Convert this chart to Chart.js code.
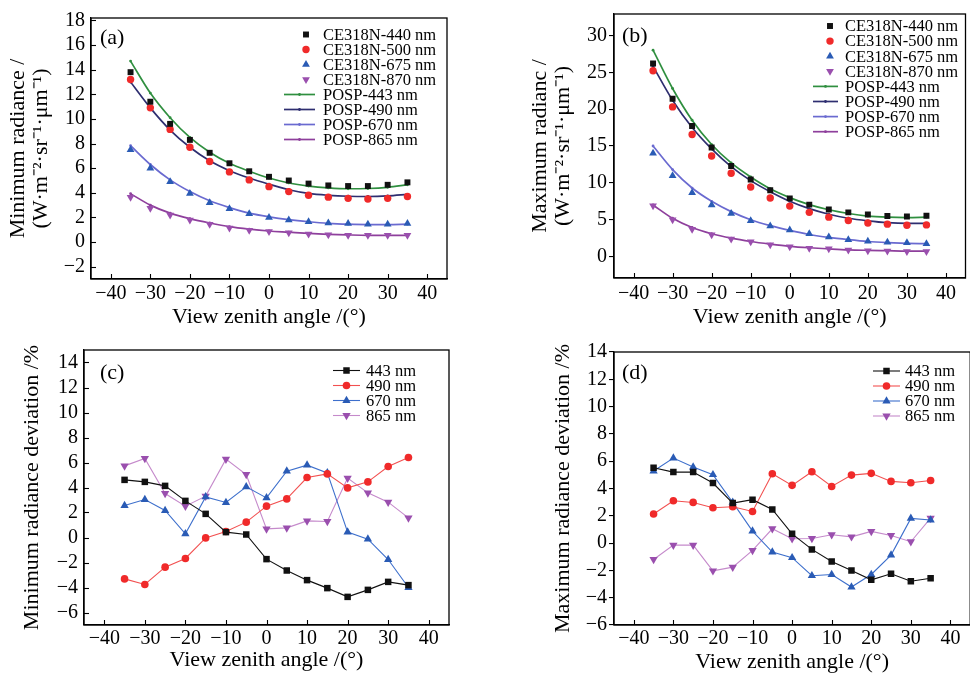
<!DOCTYPE html>
<html><head><meta charset="utf-8">
<script src="https://cdn.jsdelivr.net/npm/chart.js@4/dist/chart.umd.min.js"></script>
<style>
html,body{margin:0;padding:0;background:#fff;overflow:hidden;width:970px;height:674px;position:relative;}
canvas{position:absolute;}
</style></head><body>
<canvas id="ca" width="485" height="330" style="left:0;top:0"></canvas>
<canvas id="cb" width="485" height="330" style="left:485px;top:0"></canvas>
<canvas id="cc" width="485" height="344" style="left:0;top:330px"></canvas>
<canvas id="cd" width="490" height="344" style="left:485px;top:330px"></canvas>
<script>
// ---------- data ----------
const angles = [-35, -30, -25, -20, -15, -10, -5, 0, 5, 10, 15, 20, 25, 30, 35];
const xTicks = [-40, -30, -20, -10, 0, 10, 20, 30, 40];
const yTicksA = [-2, 0, 2, 4, 6, 8, 10, 12, 14, 16, 18];
const yTicksB = [0, 5, 10, 15, 20, 25, 30];
const yTicksC = [-6, -4, -2, 0, 2, 4, 6, 8, 10, 12, 14];
const yTicksD = [-6, -4, -2, 0, 2, 4, 6, 8, 10, 12, 14];

// (a) minimum radiance
const ceMin440 = [13.8, 11.4, 9.6, 8.3, 7.25, 6.4, 5.75, 5.3, 5.0, 4.75, 4.6, 4.55, 4.55, 4.65, 4.85];
const ceMin500 = [13.2, 10.9, 9.15, 7.7, 6.55, 5.7, 5.05, 4.5, 4.1, 3.8, 3.65, 3.55, 3.5, 3.55, 3.7];
const ceMin675 = [7.5, 6.0, 4.9, 3.95, 3.2, 2.7, 2.3, 2.0, 1.8, 1.65, 1.55, 1.5, 1.45, 1.45, 1.5];
const ceMin870 = [3.65, 2.75, 2.2, 1.8, 1.45, 1.15, 0.95, 0.85, 0.75, 0.65, 0.6, 0.55, 0.55, 0.55, 0.55];
const pospMin443 = [14.7, 12.1, 10.1, 8.5, 7.3, 6.4, 5.75, 5.2, 4.8, 4.55, 4.4, 4.33, 4.35, 4.45, 4.65];
const pospMin490 = [13.0, 10.9, 9.1, 7.7, 6.6, 5.8, 5.2, 4.7, 4.25, 3.95, 3.8, 3.72, 3.7, 3.75, 3.88];
const pospMin670 = [7.83, 6.3, 5.05, 4.1, 3.35, 2.8, 2.35, 2.05, 1.82, 1.65, 1.52, 1.45, 1.42, 1.42, 1.45];
const pospMin865 = [3.93, 3.0, 2.35, 1.9, 1.55, 1.25, 1.05, 0.9, 0.8, 0.7, 0.63, 0.58, 0.55, 0.55, 0.55];

// (b) maximum radiance
const ceMax440 = [26.2, 21.4, 17.7, 14.8, 12.3, 10.45, 9.0, 7.9, 7.05, 6.4, 6.0, 5.7, 5.5, 5.45, 5.55];
const ceMax500 = [25.2, 20.3, 16.55, 13.65, 11.3, 9.45, 7.95, 6.85, 6.0, 5.35, 4.9, 4.55, 4.4, 4.25, 4.3];
const ceMax675 = [14.0, 10.95, 8.65, 7.0, 5.85, 4.85, 4.15, 3.6, 3.1, 2.65, 2.3, 2.1, 1.95, 1.88, 1.75];
const ceMax870 = [6.9, 5.0, 3.7, 2.95, 2.4, 2.0, 1.6, 1.35, 1.15, 1.05, 0.9, 0.8, 0.75, 0.7, 0.7];
const pospMax443 = [28.0, 22.8, 18.5, 15.2, 12.7, 10.8, 9.2, 8.0, 7.05, 6.35, 5.85, 5.5, 5.35, 5.3, 5.35];
const pospMax490 = [25.8, 21.2, 17.5, 14.6, 12.2, 10.3, 8.8, 7.5, 6.5, 5.75, 5.2, 4.85, 4.6, 4.5, 4.5];
const pospMax670 = [15.0, 11.8, 9.3, 7.5, 6.1, 5.0, 4.2, 3.55, 3.0, 2.6, 2.3, 2.05, 1.9, 1.8, 1.75];
const pospMax865 = [7.0, 5.2, 3.95, 3.1, 2.5, 2.05, 1.7, 1.4, 1.2, 1.05, 0.92, 0.85, 0.8, 0.75, 0.75];

// (c) minimum radiance deviation %
const devMin443 = [4.61, 4.45, 4.13, 2.93, 1.89, 0.43, 0.24, -1.73, -2.64, -3.41, -4.05, -4.75, -4.19, -3.55, -3.81];
const devMin490 = [-3.31, -3.76, -2.37, -1.68, -0.03, 0.48, 1.23, 2.51, 3.09, 4.8, 5.09, 3.97, 4.45, 5.68, 6.4];
const devMin670 = [2.56, 3.04, 2.16, 0.29, 3.25, 2.8, 4.05, 3.17, 5.31, 5.79, 5.17, 0.43, -0.13, -1.76, -4.0];
const devMin865 = [5.73, 6.32, 3.52, 2.51, 3.31, 6.27, 5.04, 0.69, 0.77, 1.33, 1.28, 4.75, 3.57, 2.83, 1.57];

// (d) maximum radiance deviation %
const devMax443 = [5.52, 5.2, 5.2, 4.4, 2.93, 3.18, 2.47, 0.68, -0.46, -1.34, -2.0, -2.69, -2.25, -2.79, -2.57];
const devMax490 = [2.13, 3.1, 2.98, 2.59, 2.66, 2.32, 5.08, 4.23, 5.23, 4.15, 4.98, 5.11, 4.52, 4.42, 4.59];
const devMax670 = [5.28, 6.23, 5.57, 5.01, 2.98, 0.88, -0.66, -1.07, -2.39, -2.3, -3.22, -2.3, -0.88, 1.81, 1.69];
const devMax865 = [-1.2, -0.15, -0.15, -2.03, -1.76, -0.54, 1.05, 0.32, 0.34, 0.61, 0.46, 0.86, 0.56, 0.1, 1.83];

// ---------- styling helpers ----------
const FONT = "'Liberation Serif', 'Times New Roman', serif";
const C = {black:'#111111', red:'#f02a2a', blue:'#2a5bb5', purple:'#9a4fae',
  redL:'#f25050', blueL:'#3d6fcc', purpleL:'#c58acb',
  green:'#2f8f3f', navy:'#2e2e70', p670:'#6a6ad0', p865:'#8e3f9c'};
const pts = ys => ys.map((y, i) => ({x: angles[i], y: y}));
const minus = v => String(v).replace('-', '\u2212');

function marker(ctx, style, r, x, y, fill, rot) {
  ctx.fillStyle = fill;
  ctx.beginPath();
  if (style === 'rect') {
    const s = r * Math.SQRT1_2;
    ctx.rect(x - s, y - s, 2 * s, 2 * s);
  } else if (style === 'triangle') {
    let a = (rot || 0) * Math.PI / 180;
    ctx.moveTo(x + Math.sin(a) * r, y - Math.cos(a) * r);
    a += 2 * Math.PI / 3; ctx.lineTo(x + Math.sin(a) * r, y - Math.cos(a) * r);
    a += 2 * Math.PI / 3; ctx.lineTo(x + Math.sin(a) * r, y - Math.cos(a) * r);
    ctx.closePath();
  } else {
    ctx.arc(x, y, r, 0, Math.PI * 2);
  }
  ctx.fill();
}

const framePlugin = {
  id: 'frame',
  afterDraw(chart, args, o) {
    const {ctx, chartArea: a} = chart;
    ctx.save();
    ctx.strokeStyle = '#000';
    ctx.lineWidth = 1.3;
    ctx.strokeRect(a.left, a.top, a.right - a.left, a.bottom - a.top);
    ctx.lineWidth = 1.1;
    const len = 5;
    if (o.inX) chart.scales.x.ticks.forEach(t => {
      const px = Math.round(chart.scales.x.getPixelForValue(t.value)) + 0.5;
      ctx.beginPath(); ctx.moveTo(px, a.bottom); ctx.lineTo(px, a.bottom - len); ctx.stroke();
    });
    if (o.inY) chart.scales.y.ticks.forEach(t => {
      const py = Math.round(chart.scales.y.getPixelForValue(t.value)) + 0.5;
      ctx.beginPath(); ctx.moveTo(a.left, py); ctx.lineTo(a.left + len, py); ctx.stroke();
    });
    ctx.fillStyle = '#000';
    ctx.font = '22px ' + FONT;
    ctx.textBaseline = 'middle';
    ctx.textAlign = 'left';
    ctx.fillText(o.label, a.left + o.dx, a.top + o.dy);
    ctx.restore();
  }
};

const legendPlugin = {
  id: 'inLegend',
  afterDraw(chart, args, o) {
    const ctx = chart.ctx;
    ctx.save();
    chart.data.datasets.forEach((ds, i) => {
      const y = o.y0 + i * o.rowH;
      if (ds.showLine !== false) {
        ctx.strokeStyle = ds.borderColor;
        ctx.lineWidth = ds.borderWidth;
        ctx.beginPath(); ctx.moveTo(o.x1, y); ctx.lineTo(o.x2, y); ctx.stroke();
        marker(ctx, ds.pointStyle, ds.pointRadius, (o.x1 + o.x2) / 2, y, ds.pointBackgroundColor, ds.pointRotation);
      } else {
        marker(ctx, ds.pointStyle, ds.pointRadius, o.mx, y, ds.pointBackgroundColor, ds.pointRotation);
      }
      ctx.fillStyle = '#000';
      ctx.font = '16.5px ' + FONT;
      ctx.textBaseline = 'middle';
      ctx.textAlign = 'left';
      ctx.fillText(ds.label, o.tx, y + 1);
    });
    ctx.restore();
  }
};

function xScale(o) {
  return {
    type: 'linear', min: -45, max: 45,
    afterBuildTicks: s => { s.ticks = xTicks.map(v => ({value: v})); },
    afterFit: s => { s.height = o.h; },
    grid: {drawOnChartArea: false, drawTicks: false},
    border: {display: true, color: '#000', width: 1.3},
    ticks: {padding: o.pad, color: '#000', maxRotation: 0, autoSkip: false,
      font: {family: FONT, size: 20}, callback: v => minus(v)},
    title: {display: true, text: 'View zenith angle /(\u00b0)', color: '#000',
      font: {family: FONT, size: 22, lineHeight: 1.1}, padding: {top: 0, bottom: o.tpad}}
  };
}
function yScale(o) {
  return {
    type: 'linear', min: o.min, max: o.max,
    afterBuildTicks: s => { s.ticks = o.ticks.map(v => ({value: v})); },
    afterFit: s => { s.width = o.w; },
    grid: {drawOnChartArea: false, drawTicks: !!o.out, tickLength: 5, color: '#000', lineWidth: 1.1},
    border: {display: true, color: '#000', width: 1.3},
    ticks: {padding: o.pad, color: '#000', autoSkip: false,
      font: {family: FONT, size: 20}, callback: v => minus(v)},
    title: {display: true, text: o.title, color: '#000',
      font: {family: FONT, size: 22, lineHeight: 1.05}, padding: {top: o.tpad, bottom: 0}}
  };
}

function ceSet(label, ys, color, style, r, rot) {
  return {label, data: pts(ys), showLine: false, pointStyle: style, pointRadius: r,
    pointRotation: rot || 0, pointBackgroundColor: color, pointBorderColor: color,
    pointBorderWidth: 0, borderColor: color};
}
function pospSet(label, ys, color) {
  return {label, data: pts(ys), showLine: true, borderColor: color, borderWidth: 1.7,
    cubicInterpolationMode: 'monotone', pointStyle: 'circle', pointRadius: 1.4,
    pointBackgroundColor: color, pointBorderColor: color, pointBorderWidth: 0};
}
function devSet(label, ys, lineColor, color, style, r, rot) {
  return {label, data: pts(ys), showLine: true, borderColor: lineColor, borderWidth: 1.1,
    tension: 0, pointStyle: style, pointRadius: r, pointRotation: rot || 0,
    pointBackgroundColor: color, pointBorderColor: color, pointBorderWidth: 0};
}

function make(id, datasets, opts) {
  return new Chart(document.getElementById(id), {
    type: 'line',
    data: {datasets},
    options: {
      responsive: false, animation: false, parsing: true,
      layout: {padding: opts.padding},
      plugins: {legend: {display: false}, tooltip: {enabled: false},
        frame: opts.frame, inLegend: opts.legend},
      scales: {x: opts.x, y: opts.y}
    },
    plugins: [framePlugin, legendPlugin]
  });
}

const yUnit = '(W\u00b7m\u207b\u00b2\u00b7sr\u207b\u00b9\u00b7\u03bcm\u207b\u00b9)';

// (a)
make('ca', [
  ceSet('CE318N-440 nm', ceMin440, C.black, 'rect', 4.2),
  ceSet('CE318N-500 nm', ceMin500, C.red, 'circle', 3.7),
  ceSet('CE318N-675 nm', ceMin675, C.blue, 'triangle', 4.5),
  ceSet('CE318N-870 nm', ceMin870, C.purple, 'triangle', 4.5, 180),
  pospSet('POSP-443 nm', pospMin443, C.green),
  pospSet('POSP-490 nm', pospMin490, C.navy),
  pospSet('POSP-670 nm', pospMin670, C.p670),
  pospSet('POSP-865 nm', pospMin865, C.p865)
], {
  padding: {top: 13, right: 38, left: 0, bottom: 0},
  x: xScale({h: 51, pad: 3, tpad: 1}),
  y: yScale({min: -3, max: 18.2, ticks: yTicksA, w: 91, pad: 6, tpad: 6.5,
    title: ['Minimum radiance /', yUnit]}),
  frame: {inX: true, inY: true, label: '(a)', dx: 9, dy: 20},
  legend: {mx: 306, x1: 284, x2: 315, tx: 323, y0: 34.5, rowH: 15}
});

// (b)
make('cb', [
  ceSet('CE318N-440 nm', ceMax440, C.black, 'rect', 4.2),
  ceSet('CE318N-500 nm', ceMax500, C.red, 'circle', 3.7),
  ceSet('CE318N-675 nm', ceMax675, C.blue, 'triangle', 4.5),
  ceSet('CE318N-870 nm', ceMax870, C.purple, 'triangle', 4.5, 180),
  pospSet('POSP-443 nm', pospMax443, C.green),
  pospSet('POSP-490 nm', pospMax490, C.navy),
  pospSet('POSP-670 nm', pospMax670, C.p670),
  pospSet('POSP-865 nm', pospMax865, C.p865)
], {
  padding: {top: 11, right: 1, left: 0, bottom: 0},
  x: xScale({h: 52, pad: 4, tpad: 1}),
  y: yScale({min: -2.9, max: 32.9, ticks: yTicksB, w: 129, pad: 2, out: true, tpad: 43.5,
    title: ['Maximum radianc /', yUnit]}),
  frame: {inX: true, inY: false, label: '(b)', dx: 8, dy: 22},
  legend: {mx: 345, x1: 328, x2: 353, tx: 360, y0: 26, rowH: 15.1}
});

// (c)
make('cc', [
  devSet('443 nm', devMin443, C.black, C.black, 'rect', 4.6),
  devSet('490 nm', devMin490, C.redL, C.red, 'circle', 3.8),
  devSet('670 nm', devMin670, C.blueL, C.blue, 'triangle', 4.8),
  devSet('865 nm', devMin865, C.purpleL, C.purple, 'triangle', 4.8, 180)
], {
  padding: {top: 20, right: 36, left: 0, bottom: 0},
  x: xScale({h: 49, pad: 2, tpad: 2}),
  y: yScale({min: -7, max: 15, ticks: yTicksC, w: 84, pad: 6, tpad: 21,
    title: 'Minimum radiance deviation /%'}),
  frame: {inX: true, inY: true, label: '(c)', dx: 16, dy: 23},
  legend: {mx: 347, x1: 333, x2: 360, tx: 366, y0: 40.5, rowH: 15}
});

// (d)
make('cd', [
  devSet('443 nm', devMax443, C.black, C.black, 'rect', 4.6),
  devSet('490 nm', devMax490, C.redL, C.red, 'circle', 3.8),
  devSet('670 nm', devMax670, C.blueL, C.blue, 'triangle', 4.8),
  devSet('865 nm', devMax865, C.purpleL, C.purple, 'triangle', 4.8, 180)
], {
  padding: {top: 22, right: 0, left: 0, bottom: 0},
  x: xScale({h: 49, pad: 2, tpad: 0}),
  y: yScale({min: -6, max: 14, ticks: yTicksD, w: 129, pad: 2, out: true, tpad: 67,
    title: 'Maximum radiance deviation /%'}),
  frame: {inX: true, inY: false, label: '(d)', dx: 8, dy: 21},
  legend: {mx: 402, x1: 388, x2: 415, tx: 420, y0: 41, rowH: 15}
});
</script>
</body></html>
